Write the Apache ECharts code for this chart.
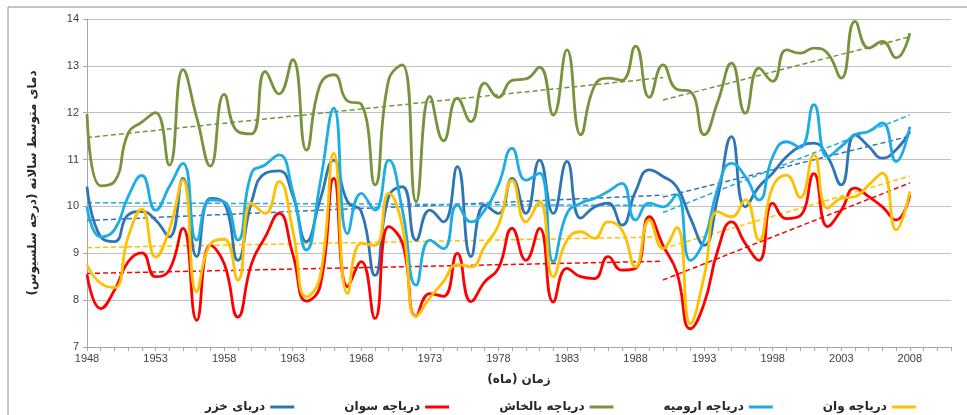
<!DOCTYPE html>
<html>
<head>
<meta charset="utf-8">
<script src="https://cdn.jsdelivr.net/npm/echarts@6/dist/echarts.min.js"></script>
<style>
html,body{margin:0;padding:0;background:#fff;}
#chart{width:967px;height:415px;}
</style>
</head>
<body>
<div id="chart"></div>
<script>
// categories (years) – axis runs a little past the last data year
const years = [];
for (let y = 1948; y <= 2011; y++) years.push(String(y));

// series values 1948–2008
const caspian = [10.42,9.35,9.25,9.82,9.89,9.71,9.35,10.6,8.93,10.17,10.07,8.85,10.1,10.71,10.76,10.24,9.25,10.14,10.99,10.1,9.89,8.53,10.21,10.42,9.28,9.92,9.67,10.85,8.93,10.03,9.85,10.6,9.85,10.99,9.85,10.96,9.75,9.99,10.07,9.6,10.32,10.78,10.64,10.42,9.75,9.17,10.21,11.49,9.99,10.42,10.71,11.06,11.28,11.35,11.06,10.46,11.53,11.28,11.03,11.21,11.6];
const sevan = [8.55,7.82,8.21,8.82,9.01,8.5,8.64,9.53,7.57,9.17,8.78,7.64,8.78,9.35,9.85,8.99,7.98,8.3,10.6,8.29,8.82,7.61,9.57,9.21,7.66,8.14,8.08,9.0,7.97,8.39,8.68,9.53,8.85,9.53,7.96,8.68,8.5,8.46,8.93,8.64,8.68,9.78,9.17,8.6,7.39,7.93,9.07,9.67,9.21,8.85,10.07,9.74,9.8,10.7,9.57,9.92,10.39,10.21,9.99,9.71,10.24];
const balkhash = [11.97,10.44,10.53,11.56,11.8,12.0,10.88,12.92,11.9,10.86,12.39,11.6,11.55,12.88,12.4,13.13,11.2,12.6,12.81,12.25,12.18,10.46,12.7,13.02,10.1,12.35,11.4,12.31,11.81,12.63,12.33,12.69,12.72,12.97,11.95,13.34,11.53,12.57,12.74,12.69,13.42,12.33,13.02,12.5,12.45,11.53,12.24,13.06,11.99,12.95,12.67,13.34,13.27,13.38,13.27,12.74,13.95,13.38,13.52,13.17,13.7];
const urmia = [9.99,9.35,9.5,10.21,10.66,9.92,10.42,10.92,9.28,10.14,10.1,9.28,10.71,10.89,11.1,10.32,9.07,10.5,12.1,9.42,10.28,9.92,10.99,9.92,8.32,9.28,9.1,10.03,9.67,9.92,10.46,11.24,10.56,10.71,8.82,9.85,10.07,10.17,10.32,10.49,9.71,10.07,9.99,10.25,8.85,9.28,10.39,10.92,10.64,10.14,11.06,11.38,11.26,12.17,11.06,11.28,11.53,11.6,11.78,10.96,11.7];
const van = [8.75,8.36,8.27,9.35,9.94,8.92,9.5,10.56,8.18,9.2,9.3,8.43,10.07,9.85,10.53,9.5,8.07,8.5,11.13,8.14,9.21,9.17,10.28,9.57,7.65,8.05,8.4,8.76,8.71,9.15,9.6,10.56,9.67,10.1,8.5,9.28,9.46,9.32,9.67,9.5,8.71,9.71,9.1,9.55,7.5,8.5,9.89,9.78,10.14,9.28,10.42,10.67,10.19,11.1,9.96,10.17,10.21,10.46,10.71,9.5,10.32];

// trend segments: [start, end] values, periods 1948–1990 and 1990–2008
const trendYears1 = ['1948','1990'];
const trendYears2 = ['1990','2008'];
const caspianTrend1 = [9.70,10.24],  caspianTrend2 = [10.2,11.5];
const sevanTrend1 = [8.57,8.83],     sevanTrend2 = [8.43,10.5];
const balkhashTrend1 = [11.47,12.75], balkhashTrend2 = [12.27,13.62];
const urmiaTrend1 = [10.08,10.02],   urmiaTrend2 = [9.87,11.95];
const vanTrend1 = [9.12,9.35],       vanTrend2 = [9.1,10.65];

const RLM = '\u200F';
const names = ['دریای خزر','دریاچه سوان','دریاچه بالخاش','دریاچه ارومیه','دریاچه وان'].map(s => RLM + s + RLM);
const colors = ['#2E75B6','#FF0000','#77933C','#1CADE4','#FFC000'];
const mains = [caspian, sevan, balkhash, urmia, van];
const trends = [[caspianTrend1,caspianTrend2],[sevanTrend1,sevanTrend2],[balkhashTrend1,balkhashTrend2],[urmiaTrend1,urmiaTrend2],[vanTrend1,vanTrend2]];

const series = [];
mains.forEach((d, i) => {
  series.push({
    name: names[i], type: 'line', data: d, smooth: 0.5, showSymbol: false,
    lineStyle: {width: 2.8, color: colors[i]}, itemStyle: {color: colors[i]}, z: 3
  });
});
trends.forEach((t, i) => {
  [[trendYears1, t[0]], [trendYears2, t[1]]].forEach(([yrs, vals]) => {
    series.push({
      type: 'line', data: yrs.map((y, k) => [y, vals[k]]), showSymbol: false,
      lineStyle: {width: 1.5, type: [5, 3], color: colors[i]}, silent: true, z: 2
    });
  });
});

const chart = echarts.init(document.getElementById('chart'), null, {renderer: 'canvas'});
chart.setOption({
  animation: false,
  backgroundColor: '#fff',
  color: colors,
  graphic: [{
    type: 'rect', shape: {x: 8, y: 7, width: 1000, height: 500},
    style: {fill: 'none', stroke: '#8c8c8c', lineWidth: 1}, z: -1
  }],
  grid: {left: 87, right: 16, top: 19, bottom: 68},
  xAxis: {
    type: 'category', data: years, boundaryGap: false,
    name: RLM + 'زمان (ماه)' + RLM, nameLocation: 'middle', nameGap: 27,
    nameTextStyle: {fontFamily: 'DejaVu Sans', fontWeight: 'bold', fontSize: 12, color: '#262626'},
    axisLine: {lineStyle: {color: '#a6a6a6'}},
    axisTick: {interval: 0, length: 4, lineStyle: {color: '#a6a6a6'}},
    axisLabel: {interval: 4, fontFamily: 'Liberation Sans', fontSize: 11, color: '#404040', margin: 6},
    splitLine: {show: false}
  },
  yAxis: {
    type: 'value', min: 7, max: 14, interval: 1,
    name: RLM + 'دمای متوسط سالانه (درجه سلسیوس)' + RLM, nameLocation: 'middle', nameGap: 48,
    nameTextStyle: {fontFamily: 'DejaVu Sans', fontWeight: 'bold', fontSize: 12, color: '#262626'},
    axisLine: {show: true, lineStyle: {color: '#a6a6a6'}},
    axisTick: {show: true, length: 4, lineStyle: {color: '#a6a6a6'}},
    axisLabel: {fontFamily: 'Liberation Sans', fontSize: 11, color: '#404040', margin: 8},
    splitLine: {lineStyle: {color: '#c0c0c0', width: 1}}
  },
  legend: {
    data: names, top: 396, left: 200, align: 'right', itemGap: 50,
    icon: 'rect', itemWidth: 24, itemHeight: 3,
    textStyle: {fontFamily: 'DejaVu Sans', fontWeight: 'bold', fontSize: 12, color: '#262626'}
  },
  series: series
});
</script>
</body>
</html>
